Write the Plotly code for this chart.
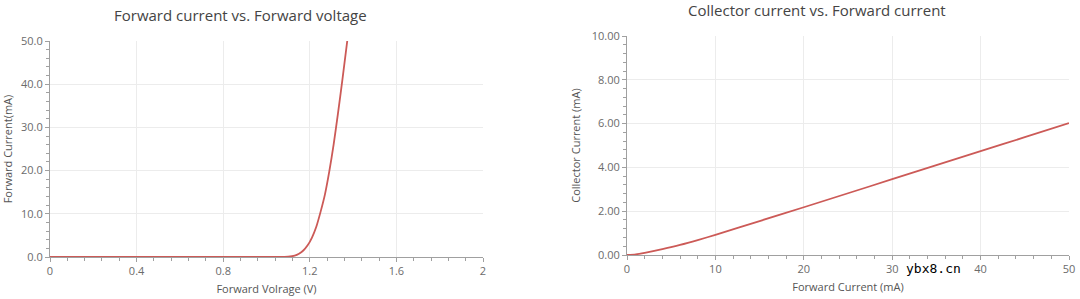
import plotly.graph_objects as go

# Left chart: Forward current vs forward voltage
vf_volts = [0, 0.5, 1.0, 1.05, 1.1, 1.13, 1.15, 1.17, 1.19, 1.21, 1.23, 1.25, 1.27, 1.29, 1.31, 1.33, 1.35, 1.373]
if_ma = [0, 0, 0, 0.01, 0.08, 0.3, 0.75, 1.5, 2.7, 4.5, 7.0, 10.5, 14.5, 19.8, 26.0, 33.2, 40.8, 50]
left_xticks = [0, 0.4, 0.8, 1.2, 1.6, 2]
left_xlabels = ["0", "0.4", "0.8", "1.2", "1.6", "2"]

# Right chart: Collector current vs forward current
fwd_ma = [0, 1, 2, 4, 6, 8, 10, 15, 20, 25, 30, 35, 40, 45, 50]
ic_ma = [0, 0.03, 0.1, 0.27, 0.46, 0.68, 0.92, 1.55, 2.18, 2.82, 3.46, 4.1, 4.74, 5.38, 6.02]

W, H = 1080, 299
red = "#cc5a57"
tick_font = dict(family="Open Sans", size=11, color="#6b6b6b")
title_font = dict(family="Open Sans", size=11, color="#555555")

fig = go.Figure()
fig.add_trace(go.Scatter(x=vf_volts, y=if_ma, mode="lines",
                         line=dict(color=red, width=1.8, shape="spline", smoothing=0.7),
                         xaxis="x", yaxis="y", showlegend=False, hoverinfo="skip"))
fig.add_trace(go.Scatter(x=fwd_ma, y=ic_ma, mode="lines",
                         line=dict(color=red, width=1.8, shape="spline", smoothing=0.7),
                         xaxis="x2", yaxis="y2", showlegend=False, hoverinfo="skip"))

def px_x(p):
    return p / W

def px_y(p):
    return 1 - p / H

common_ax = dict(showline=True, linecolor="#a0a0a0", linewidth=1, gridcolor="#ececec", gridwidth=1,
                 ticks="outside", ticklen=4, tickcolor="#a0a0a0", tickfont=tick_font, zeroline=False,
                 fixedrange=True, automargin=False)

fig.update_layout(
    template="none",
    width=W, height=H,
    margin=dict(l=0, r=0, t=0, b=0, autoexpand=False),
    paper_bgcolor="white", plot_bgcolor="white",
    xaxis=dict(domain=[px_x(50), px_x(483)], anchor="y", range=[0, 2], tickvals=left_xticks,
               ticktext=left_xlabels, showgrid=True,
               minor=dict(dtick=0.08, tick0=0, ticks="outside", ticklen=3, tickcolor="#a0a0a0", showgrid=False),
               title=dict(text="Forward Volrage (V)", font=title_font, standoff=8), **common_ax),
    yaxis=dict(domain=[px_y(257), px_y(41)], anchor="x", range=[0, 50], dtick=10, tickformat=".1f",
               showgrid=True,
               minor=dict(dtick=2, ticks="outside", ticklen=3, tickcolor="#a0a0a0", showgrid=False),
               title=dict(text="Forward Current(mA)", font=title_font, standoff=8), **common_ax),
    xaxis2=dict(domain=[px_x(627), px_x(1069)], anchor="y2", range=[0, 50], dtick=10, showgrid=True,
                minor=dict(dtick=2, ticks="outside", ticklen=3, tickcolor="#a0a0a0", showgrid=False),
                title=dict(text="Forward Current (mA)", font=title_font, standoff=8), **common_ax),
    yaxis2=dict(domain=[px_y(255), px_y(36)], anchor="x2", range=[0, 10], dtick=2, tickformat=".2f",
                showgrid=True,
                minor=dict(dtick=0.4, ticks="outside", ticklen=3, tickcolor="#a0a0a0", showgrid=False),
                title=dict(text="Collector Current (mA)", font=title_font, standoff=8), **common_ax),
    annotations=[
        dict(text="Forward current vs. Forward voltage", x=px_x(240), y=px_y(15), xref="paper", yref="paper",
             showarrow=False, font=dict(family="Open Sans", size=15, color="#444444"),
             xanchor="center", yanchor="middle"),
        dict(text="Collector current vs. Forward current", x=px_x(817), y=px_y(10), xref="paper", yref="paper",
             showarrow=False, font=dict(family="Open Sans", size=15, color="#444444"),
             xanchor="center", yanchor="middle"),
        dict(text="ybx8.cn", x=px_x(933), y=px_y(268), xref="paper", yref="paper", showarrow=False,
             font=dict(family="DejaVu Sans Mono", size=13, color="#000000"),
             xanchor="center", yanchor="middle", bgcolor="white"),
    ],
)

fig.write_html("out.html")
